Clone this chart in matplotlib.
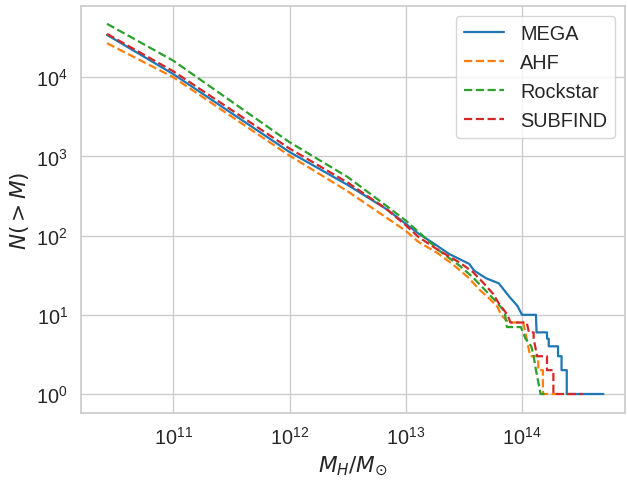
import numpy as np
import matplotlib
matplotlib.use("Agg")
import matplotlib.pyplot as plt
import seaborn as sns

# log10(M_H / M_sun) and N(>M), tails drawn as steps
mega_logm = [10.43, 11.0, 12.0, 12.5, 12.83, 13.0, 13.11,
             13.25, 13.37, 13.545, 13.59, 13.69, 13.80, 13.89, 13.96, 14.0,
             14.12, 14.125, 14.215, 14.215, 14.23, 14.23, 14.31, 14.31, 14.34, 14.34,
             14.385, 14.385, 14.70]
mega_n = [34300, 10960, 1138, 437, 218, 141, 106,
          78, 59, 44, 36, 29, 25, 17, 13, 10,
          10, 6, 6, 5, 5, 4, 4, 3, 3, 2,
          2, 1, 1]

ahf_logm = [10.43, 11.0, 12.0, 12.5, 12.83, 13.0, 13.11,
            13.26, 13.40, 13.545, 13.63, 13.72, 13.79, 13.82, 13.885,
            14.01, 14.04, 14.07, 14.14, 14.14, 14.18, 14.18, 14.22, 14.31]
ahf_n = [26900, 10000, 1023, 363, 170, 115, 83,
         62, 44, 29, 21, 16, 12.5, 10, 8,
         8, 5, 3, 3, 2, 2, 1, 1, 1]

rockstar_logm = [10.43, 11.0, 12.0, 12.5, 12.83, 13.0, 13.13,
                 13.285, 13.46, 13.575, 13.69, 13.78, 13.85, 13.87,
                 13.99, 14.03, 14.08, 14.10, 14.12, 14.16, 14.22]
rockstar_n = [47300, 16200, 1514, 550, 240, 155, 105,
              65, 42, 30, 20, 14.5, 11, 7,
              7, 5, 4, 3, 2, 1, 1]

subfind_logm = [10.43, 11.0, 12.0, 12.5, 12.83, 13.0, 13.11,
                13.285, 13.46, 13.575, 13.66, 13.75, 13.80, 13.875, 13.90,
                14.04, 14.06, 14.10, 14.10, 14.13, 14.215, 14.215, 14.27, 14.27, 14.34, 14.52]
subfind_n = [35300, 11900, 1259, 468, 219, 135, 96,
             65, 46, 35, 26, 18.5, 14, 10, 8,
             8, 6, 6, 5, 3, 3, 2, 2, 1, 1, 1]

sns.set_theme(style="whitegrid", font_scale=1.3)
plt.rcParams["font.family"] = ["Liberation Sans", "DejaVu Sans"]

fig, ax = plt.subplots(figsize=(6.28, 4.81), dpi=100)
fig.subplots_adjust(left=81/628, right=625/628, bottom=1-414/481, top=1-7/481)

lw = 1.6
ax.plot(10**np.array(mega_logm), mega_n, "-", lw=lw, color="tab:blue", label="MEGA")
ax.plot(10**np.array(ahf_logm), ahf_n, "--", lw=lw, color="tab:orange", label="AHF")
ax.plot(10**np.array(rockstar_logm), rockstar_n, "--", lw=lw, color="tab:green", label="Rockstar")
ax.plot(10**np.array(subfind_logm), subfind_n, "--", lw=lw, color="tab:red", label="SUBFIND")

ax.set_xscale("log")
ax.set_yscale("log")
ax.set_xlim(10**10.206, 10**14.886)
ax.set_ylim(10**-0.24, 10**4.90)
ax.set_xlabel(r"$M_H/M_{\odot}$")
ax.set_ylabel(r"$N(>M)$")
ax.legend(loc="upper right")

fig.savefig("out.png", dpi=100)
